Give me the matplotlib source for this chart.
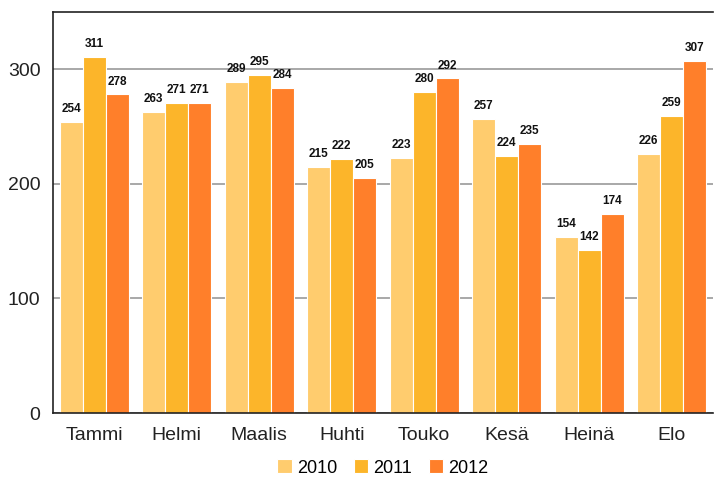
import matplotlib
matplotlib.use("Agg")
import matplotlib.pyplot as plt
import numpy as np

plt.rcParams['font.family'] = ['Liberation Sans', 'DejaVu Sans']

categories = ["Tammi", "Helmi", "Maalis", "Huhti", "Touko", "Kesä", "Heinä", "Elo"]
years = ["2010", "2011", "2012"]
v2010 = [254, 263, 289, 215, 223, 257, 154, 226]
v2011 = [311, 271, 295, 222, 280, 224, 142, 259]
v2012 = [278, 271, 284, 205, 292, 235, 174, 307]
series = [v2010, v2011, v2012]
colors = ["#FFCC6E", "#FCB52A", "#FF7F2A"]

fig = plt.figure(figsize=(7.14, 4.8), dpi=100)
ax = fig.add_axes([53/714, 67/480, (713-53)/714, (413-12)/480])

x = np.arange(len(categories))
w = 0.28
for i, (vals, c, y) in enumerate(zip(series, colors, years)):
    bars = ax.bar(x + (i - 1) * w, vals, w, color=c, edgecolor="white", linewidth=0.8, label=y, zorder=2)
    for b, v in zip(bars, vals):
        ax.text(b.get_x() + b.get_width() / 2, v + 6, str(v), ha="center", va="bottom",
                fontsize=8.5, fontweight="bold", color="#111111", zorder=4)

ax.set_xlim(-0.5, len(categories) - 0.5)
ax.set_ylim(0, 350)
ax.set_yticks([0, 100, 200, 300])
ax.set_xticks(x)
ax.set_xticklabels(categories)
ax.tick_params(axis="both", length=0, labelsize=14, colors="#222222")
ax.tick_params(axis="y", pad=9)
ax.tick_params(axis="x", pad=10)
ax.yaxis.grid(True, color="#999999", linewidth=1.2, zorder=0)
ax.set_axisbelow(True)
for s in ["left", "bottom", "top"]:
    ax.spines[s].set_color("#222222")
    ax.spines[s].set_linewidth(1.2)
    ax.spines[s].set_zorder(5)
ax.spines["right"].set_visible(False)

ax.legend(loc="center", bbox_to_anchor=(0.5, -55/401), ncol=3, frameon=False,
          fontsize=13, handlelength=0.8, handleheight=0.8, handletextpad=0.3, columnspacing=0.9,
          borderpad=0.1)

fig.savefig("out.png", dpi=100)
